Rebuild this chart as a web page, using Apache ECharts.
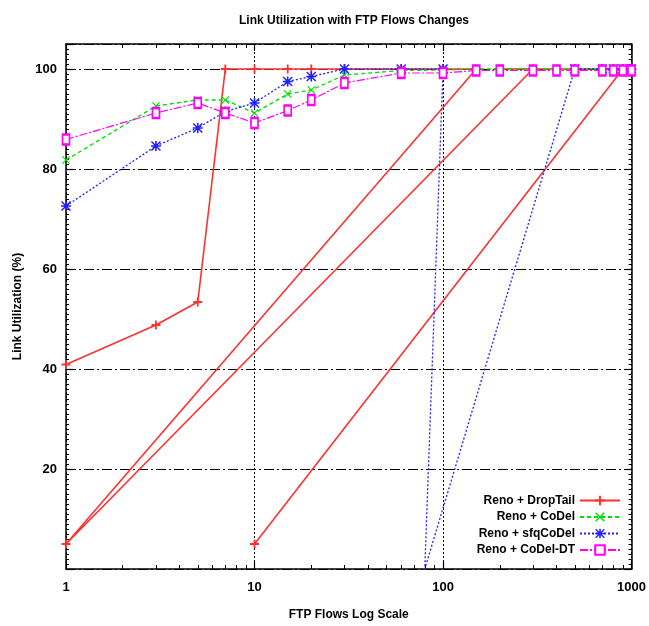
<!DOCTYPE html>
<html>
<head>
<meta charset="utf-8">
<script src="https://cdn.jsdelivr.net/npm/echarts@6/dist/echarts.min.js"></script>
<style>
html, body { margin: 0; padding: 0; background: #fff; }
#chart { width: 649px; height: 626px; }
</style>
</head>
<body>
<div id="chart"></div>
<script>
var FONT = '"Liberation Sans", Arial, sans-serif';

// values (null = break in the line)
var dropTailX = [1, 3, 5, 7, 10, 15, 20, 30, 60, 100, 150, 1, 300, 200, 400, 500, 700, 800, null, 10, 900, 1000];
var dropTailY = [40.9, 48.8, 53.4, 100, 100, 100, 100, 100, 100, 100, 100, 5, 100, 100, 100, 100, 100, 100, null, 5, 100, 100];

var codelX = [1, 3, 5, 7, 10, 15, 20, 30, 60, 100, 150, 200, 300, 400, 500, 700, 800, 900, 1000];
var codelY = [81.8, 92.6, 93.8, 93.8, 91.2, 95, 95.8, 98.8, 99.7, 99.8, 100, 100, 100, 100, 100, 100, 100, 100, 100];

var sfqX = [1, 3, 5, 7, 10, 15, 20, 30, 60, 100, 80, 500, 700, 800, 900, 1000];
var sfqY = [72.6, 84.6, 88.2, 91.5, 93.2, 97.5, 98.5, 100, 100, 100, 0, 100, 100, 100, 100, 100];

var codelDtX = [1, 3, 5, 7, 10, 15, 20, 30, 60, 100, 150, 200, 300, 400, 500, 700, 800, 900, 1000];
var codelDtY = [85.9, 91.2, 93.2, 91.2, 89.2, 91.7, 93.8, 97.2, 99.2, 99.2, 99.7, 99.7, 99.7, 99.7, 99.7, 99.7, 99.7, 99.7, 99.7];

var legendNames = ['Reno + DropTail', 'Reno + CoDel', 'Reno + sfqCoDel', 'Reno + CoDel-DT'];
var xMinorTicks = [2, 3, 4, 5, 6, 7, 8, 9, 20, 30, 40, 50, 60, 70, 80, 90, 200, 300, 400, 500, 600, 700, 800, 900];

function pairs(xs, ys) {
  return xs.map(function (x, i) {
    if (x === null) return ['-', '-'];
    // points sitting on the bottom border are clipped in the original
    if (ys[i] <= 0) return { value: [x, ys[i]], symbol: 'none' };
    return [x, ys[i]];
  });
}

var plusPath = 'path://M4,0H6V4H10V6H6V10H4V6H0V4H4Z';
var crossPath = 'path://M1,0L5,4L9,0L10,1L6,5L10,9L9,10L5,6L1,10L0,9L4,5L0,1Z';
var starPath = 'path://M4.2,0H5.8V10H4.2Z M0,4.2H10V5.8H0Z M1,0L10,9L9,10L0,1Z M9,0L10,1L1,10L0,9Z';

var chart = echarts.init(document.getElementById('chart'));

function logAxis(pos, major) {
  return {
    type: 'log',
    logBase: 10,
    min: 1,
    max: 1000,
    position: pos,
    gridIndex: 0,
    axisLine: { show: major, lineStyle: { color: '#000', width: 1.5 } },
    axisTick: major
      ? { show: true, inside: true, length: 7, lineStyle: { color: '#000', width: 1.2 } }
      : { show: true, inside: true, length: 4, customValues: xMinorTicks, lineStyle: { color: '#000', width: 1 } },
    axisLabel: (major && pos === 'bottom') ? {
      show: true, margin: 12, color: '#000', fontFamily: FONT, fontWeight: 'bold', fontSize: 13,
      formatter: function (v) { return String(Math.round(v)); }
    } : { show: false },
    splitLine: (major && pos === 'bottom') ? {
      show: true, lineStyle: { color: '#000', type: [2, 2], width: 1 }
    } : { show: false }
  };
}

var xAxes = [logAxis('bottom', true), logAxis('bottom', false), logAxis('top', true), logAxis('top', false)];
xAxes[0].name = 'FTP Flows Log Scale';
xAxes[0].nameLocation = 'middle';
xAxes[0].nameGap = 40;
xAxes[0].nameTextStyle = { color: '#000', fontFamily: FONT, fontWeight: 'bold', fontSize: 12 };

function valueAxis(pos, main) {
  return {
    type: 'value',
    min: 0,
    max: 105,
    interval: 20,
    position: pos,
    axisLine: { show: true, lineStyle: { color: '#000', width: 1.5 } },
    axisTick: { show: true, inside: true, length: 7, lineStyle: { color: '#000', width: 1.2 } },
    minorTick: { show: true, splitNumber: 20, length: 3, lineStyle: { color: '#000', width: 1 } },
    axisLabel: main ? {
      show: true, margin: 9, color: '#000', fontFamily: FONT, fontWeight: 'bold', fontSize: 13,
      formatter: function (v) { return (v === 0 || v > 100) ? '' : String(v); }
    } : { show: false },
    splitLine: main ? {
      show: true, lineStyle: { color: '#000', type: [10, 3, 2, 3], width: 1.2 }
    } : { show: false }
  };
}

var yAxes = [valueAxis('left', true), valueAxis('right', false)];
yAxes[0].name = 'Link Utilization (%)';
yAxes[0].nameLocation = 'middle';
yAxes[0].nameGap = 42;
yAxes[0].nameTextStyle = { color: '#000', fontFamily: FONT, fontWeight: 'bold', fontSize: 12 };

var option = {
  animation: false,
  backgroundColor: '#fff',
  title: {
    text: 'Link Utilization with FTP Flows Changes',
    left: 349,
    textAlign: 'center',
    top: 10,
    textStyle: { color: '#000', fontFamily: FONT, fontWeight: 'bold', fontSize: 12 }
  },
  grid: { left: 66, right: 16, top: 44, bottom: 54, containLabel: false },
  legend: {
    data: legendNames,
    orient: 'vertical',
    right: 28,
    bottom: 70,
    align: 'right',
    padding: 0,
    itemWidth: 40,
    itemHeight: 12,
    itemGap: 4.5,
    textStyle: { color: '#000', fontFamily: FONT, fontWeight: 'bold', fontSize: 12 }
  },
  xAxis: xAxes,
  yAxis: yAxes,
  series: [
    {
      name: legendNames[0], type: 'line', data: pairs(dropTailX, dropTailY),
      symbol: plusPath, symbolSize: 9, connectNulls: false,
      lineStyle: { color: '#ff3030', width: 1.6 },
      itemStyle: { color: '#ff3030' }
    },
    {
      name: legendNames[1], type: 'line', data: pairs(codelX, codelY),
      symbol: crossPath, symbolSize: 8,
      lineStyle: { color: '#00dd00', width: 1.3, type: [4, 3] },
      itemStyle: { color: '#00dd00' }
    },
    {
      name: legendNames[2], type: 'line', data: pairs(sfqX, sfqY),
      symbol: starPath, symbolSize: 10,
      lineStyle: { color: '#2020ff', width: 1.3, type: [2, 2] },
      itemStyle: { color: '#2020ff' }
    },
    {
      name: legendNames[3], type: 'line', data: pairs(codelDtX, codelDtY),
      symbol: 'emptyRect', symbolSize: [7, 10],
      lineStyle: { color: '#ff00ff', width: 1.2, type: [8, 2, 2, 2] },
      itemStyle: { color: '#ff00ff', borderWidth: 1 }
    }
  ]
};

chart.setOption(option);
</script>
</body>
</html>
